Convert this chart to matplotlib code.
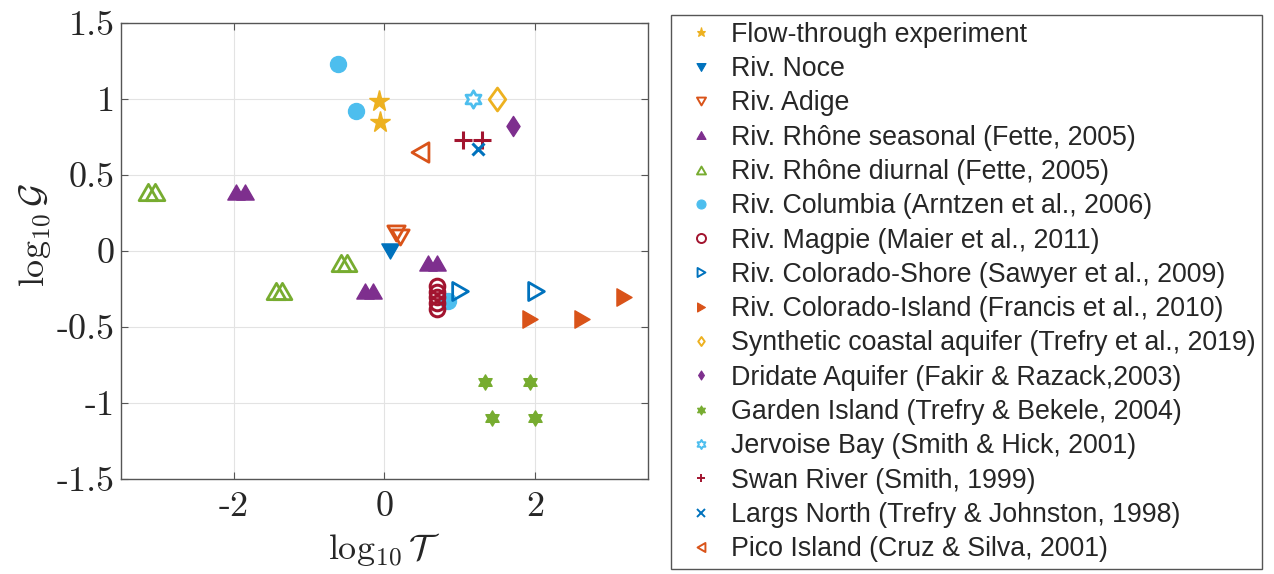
import numpy as np
import matplotlib
matplotlib.use("Agg")
import matplotlib.pyplot as plt
from matplotlib.path import Path
from matplotlib.lines import Line2D
from matplotlib.font_manager import FontProperties

plt.rcParams["mathtext.fontset"] = "cm"

# ---- data: (log10 T, log10 G) per site ----
flow_x = [-0.07, -0.06]
flow_y = [0.99, 0.85]
noce_x = [0.08]
noce_y = [0.00]
adige_x = [0.16, 0.21]
adige_y = [0.12, 0.09]
rhone_seas_x = [-1.97, -1.85, -0.26, -0.15, 0.58, 0.70]
rhone_seas_y = [0.39, 0.39, -0.26, -0.26, -0.08, -0.08]
rhone_diur_x = [-3.14, -3.05, -1.44, -1.36, -0.58, -0.50]
rhone_diur_y = [0.39, 0.39, -0.26, -0.26, -0.08, -0.08]
columbia_x = [-0.61, -0.38, 0.85]
columbia_y = [1.23, 0.92, -0.33]
magpie_x = [0.70, 0.70, 0.70, 0.70, 0.70]
magpie_y = [-0.23, -0.27, -0.30, -0.34, -0.38]
col_shore_x = [1.00, 2.02]
col_shore_y = [-0.26, -0.26]
col_island_x = [1.93, 2.63, 3.18]
col_island_y = [-0.45, -0.45, -0.30]
synthetic_x = [1.50]
synthetic_y = [1.00]
dridate_x = [1.71]
dridate_y = [0.82]
garden_x = [1.34, 1.93, 1.43, 2.00]
garden_y = [-0.86, -0.86, -1.10, -1.10]
jervoise_x = [1.18]
jervoise_y = [1.00]
swan_x = [1.05, 1.30]
swan_y = [0.73, 0.73]
largs_x = [1.24]
largs_y = [0.67]
pico_x = [0.47]
pico_y = [0.65]

labels = [
    "Flow-through experiment",
    "Riv. Noce",
    "Riv. Adige",
    "Riv. Rhône seasonal (Fette, 2005)",
    "Riv. Rhône diurnal (Fette, 2005)",
    "Riv. Columbia (Arntzen et al., 2006)",
    "Riv. Magpie (Maier et al., 2011)",
    "Riv. Colorado-Shore (Sawyer et al., 2009)",
    "Riv. Colorado-Island (Francis et al., 2010)",
    "Synthetic coastal aquifer (Trefry et al., 2019)",
    "Dridate Aquifer (Fakir & Razack,2003)",
    "Garden Island (Trefry & Bekele, 2004)",
    "Jervoise Bay (Smith & Hick, 2001)",
    "Swan River (Smith, 1999)",
    "Largs North (Trefry & Johnston, 1998)",
    "Pico Island (Cruz & Silva, 2001)",
]
xticks = [-2, 0, 2]
xtick_labels = ["-2", "0", "2"]
yticks = [1.5, 1.0, 0.5, 0.0, -0.5, -1.0, -1.5]
ytick_labels = ["1.5", "1", "0.5", "0", "-0.5", "-1", "-1.5"]

# ---- marker shapes ----
def triangle(direction, r=1.15):
    pts = {"up": [(0, 1), (-r, -1), (r, -1)],
           "down": [(0, -1), (-r, 1), (r, 1)],
           "right": [(1, 0), (-1, r), (-1, -r)],
           "left": [(-1, 0), (1, r), (1, -r)]}[direction]
    verts = pts + [pts[0]]
    codes = [Path.MOVETO, Path.LINETO, Path.LINETO, Path.CLOSEPOLY]
    return Path(verts, codes)

def diamond(w=0.72):
    verts = [(0, 1), (w, 0), (0, -1), (-w, 0), (0, 1)]
    codes = [Path.MOVETO, Path.LINETO, Path.LINETO, Path.LINETO, Path.CLOSEPOLY]
    return Path(verts, codes)

hexagram = Path.unit_regular_star(6, 0.577)

C_BLUE = "#0072BD"
C_ORANGE = "#D95319"
C_YELLOW = "#EDB120"
C_PURPLE = "#7E2F8E"
C_GREEN = "#77AC30"
C_LBLUE = "#4DBEEE"
C_RED = "#A2142F"

# (x, y, marker, color, filled, size, edge width)
series = [
    (flow_x, flow_y, "*", C_YELLOW, True, 15.5, 1.0),
    (noce_x, noce_y, triangle("down"), C_BLUE, True, 12.5, 1.0),
    (adige_x, adige_y, triangle("down"), C_ORANGE, False, 12.5, 2.0),
    (rhone_seas_x, rhone_seas_y, triangle("up"), C_PURPLE, True, 12.5, 1.0),
    (rhone_diur_x, rhone_diur_y, triangle("up"), C_GREEN, False, 13.5, 2.0),
    (columbia_x, columbia_y, "o", C_LBLUE, True, 11.5, 1.0),
    (magpie_x, magpie_y, "o", C_RED, False, 10.5, 2.2),
    (col_shore_x, col_shore_y, triangle("right"), C_BLUE, False, 13.0, 2.0),
    (col_island_x, col_island_y, triangle("right"), C_ORANGE, True, 12.5, 1.0),
    (synthetic_x, synthetic_y, diamond(0.72), C_YELLOW, False, 16.5, 2.0),
    (dridate_x, dridate_y, diamond(0.65), C_PURPLE, True, 14.5, 1.0),
    (garden_x, garden_y, hexagram, C_GREEN, True, 11.0, 1.0),
    (jervoise_x, jervoise_y, hexagram, C_LBLUE, False, 12.5, 2.0),
    (swan_x, swan_y, "+", C_RED, True, 13.0, 2.2),
    (largs_x, largs_y, "x", C_BLUE, True, 9.0, 2.2),
    (pico_x, pico_y, triangle("left"), C_ORANGE, False, 14.0, 2.0),
]

fig = plt.figure(figsize=(12.74, 5.74), dpi=100)
ax = fig.add_axes([121 / 1274, 1 - 479 / 574, (647.7 - 121) / 1274, (479 - 23) / 574])

handles = []
for (x, y, m, c, filled, ms, mew) in series:
    fc = c if filled else "none"
    ax.plot(x, y, linestyle="none", marker=m, ms=ms, mfc=fc, mec=c, mew=mew)
    handles.append(Line2D([], [], linestyle="none", marker=m, ms=6.5 if m not in ("+", "x") else 6,
                          mfc=fc, mec=c, mew=1.4 if not filled or m in ("+", "x") else 0.8))

ax.set_xlim(-3.5, 3.5)
ax.set_ylim(-1.5, 1.5)
ax.set_xticks(xticks)
ax.set_xticklabels(xtick_labels, fontfamily="cmr10", fontsize=26)
ax.set_yticks(yticks)
ax.set_yticklabels(ytick_labels, fontfamily="cmr10", fontsize=26)
ax.tick_params(direction="in", top=True, right=True, length=5, width=0.8,
               color="#555555", labelcolor="#262626")
ax.tick_params(axis="x", pad=9)
ax.tick_params(axis="y", pad=4.5)
ax.grid(True, color="#e3e3e3", linewidth=0.8)
ax.set_axisbelow(True)
for s in ax.spines.values():
    s.set_color("#555555")
    s.set_linewidth(1.0)

ax.set_xlabel(r"$\log_{10}\mathcal{T}$", fontsize=26, color="#262626")
ax.set_ylabel(r"$\log_{10}\mathcal{G}$", fontsize=26, color="#262626")
ax.xaxis.set_label_coords(0.5, -0.115)
ax.yaxis.set_label_coords(-0.13, 0.535)

leg = fig.legend(handles, labels, loc="upper left",
                 bbox_to_anchor=(671 / 1274, 1 - 15 / 574),
                 prop=FontProperties(family="Liberation Sans", size=19.3),
                 frameon=True, fancybox=False, edgecolor="#555555", framealpha=1,
                 borderpad=0.25, labelspacing=0.31, handlelength=1.74,
                 handletextpad=0.25, borderaxespad=0)
leg.get_frame().set_linewidth(1.0)
for t in leg.get_texts():
    t.set_color("#262626")

fig.savefig("out.png", dpi=100)
